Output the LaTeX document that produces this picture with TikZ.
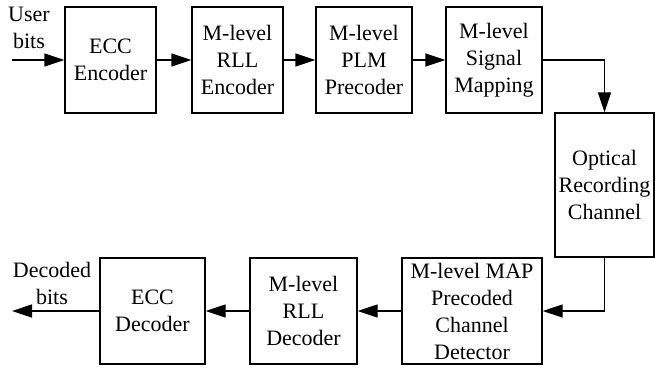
\documentclass[tikz,border=0pt]{standalone}
\usepackage{fontspec}
\setmainfont{Liberation Serif}
\usetikzlibrary{arrows.meta}
\begin{document}
\begin{tikzpicture}[x=1pt,y=-1pt,
  blk/.style={draw,line width=1.4pt,align=center,inner sep=0pt,
    font=\fontsize{22}{27}\selectfont},
  lbl/.style={align=center,inner sep=0pt,font=\fontsize{22}{27}\selectfont},
  conn/.style={line width=1.4pt,-{Triangle[length=20pt,width=13pt]}}]
\useasboundingbox (0,0) rectangle (655,369);
% top row
\node[blk,minimum width=91pt,minimum height=106pt] (ecce) at (110.5,60) {ECC\\Encoder};
\node[blk,minimum width=91pt,minimum height=106pt] (rlle) at (237.5,60) {M-level\\RLL\\Encoder};
\node[blk,minimum width=96pt,minimum height=106pt] (plm) at (364,60) {M-level\\PLM\\Precoder};
\node[blk,minimum width=96pt,minimum height=106pt] (map) at (494,60) {M-level\\Signal\\Mapping};
% channel
\node[blk,minimum width=99pt,minimum height=144pt] (chan) at (604.5,185) {Optical\\Recording\\Channel};
% bottom row
\node[blk,minimum width=140pt,minimum height=106pt] (det) at (472,311) {M-level MAP\\Precoded\\Channel\\Detector};
\node[blk,minimum width=107pt,minimum height=106pt] (rlld) at (303.5,311) {M-level\\RLL\\Decoder};
\node[blk,minimum width=105pt,minimum height=106pt] (eccd) at (152.5,311) {ECC\\Decoder};
% labels
\node[lbl] (ub) at (29,28) {User\\bits};
\node[lbl] (db) at (52,283) {Decoded\\bits};
\coordinate (in) at (12,60);
\coordinate (out) at (12,311);
% connectors
\draw[conn] (in) -- (ecce.west);
\draw[conn] (ecce) -- (rlle);
\draw[conn] (rlle) -- (plm);
\draw[conn] (plm) -- (map);
\draw[conn] (map.east) -| (chan.north);
\draw[conn] (chan.south) |- (det.east);
\draw[conn] (det) -- (rlld);
\draw[conn] (rlld) -- (eccd);
\draw[conn] (eccd.west) -- (out);
\end{tikzpicture}
\end{document}
